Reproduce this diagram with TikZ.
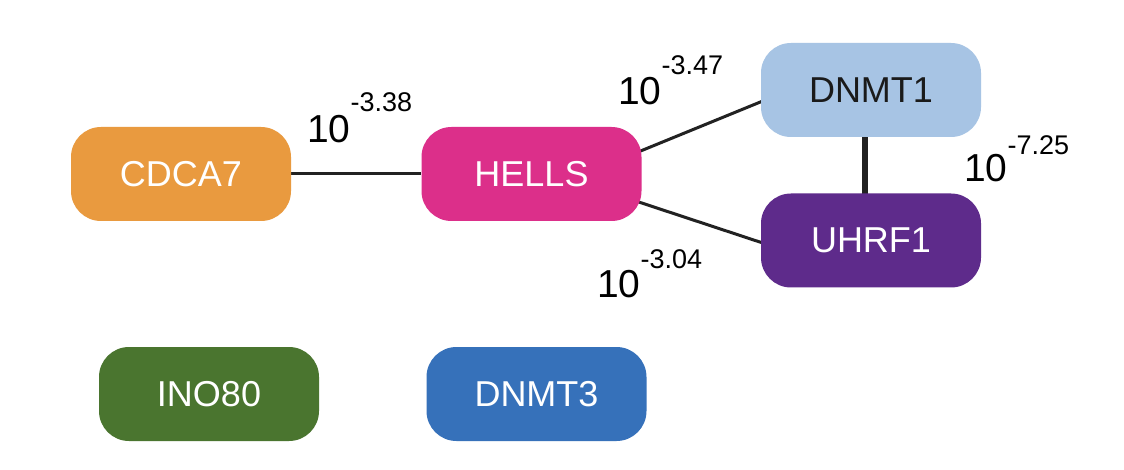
\documentclass[tikz,border=0pt]{standalone}
\usepackage{fontspec}
\setmainfont{Liberation Sans}
\usetikzlibrary{backgrounds,calc}
\definecolor{cOrange}{HTML}{E99A3F}
\definecolor{cPink}{HTML}{DC2F8A}
\definecolor{cLight}{HTML}{A7C4E4}
\definecolor{cPurple}{HTML}{5E2B8B}
\definecolor{cGreen}{HTML}{4A752F}
\definecolor{cBlue}{HTML}{3671BA}
\definecolor{cDark}{HTML}{1A1A1A}
\definecolor{cEdge}{HTML}{222222}
\newcommand\pvalexp[2]{10\raisebox{#1}{\fontsize{27}{30}\selectfont #2}}
\begin{document}
\begin{tikzpicture}[x=1pt,y=-1pt,
  gene/.style={rounded corners=30pt, minimum width=220pt, minimum height=94pt,
    inner sep=0pt, text=white, font=\fontsize{36}{40}\selectfont},
  link/.style={line width=3pt, draw=cEdge},
  strong/.style={line width=6pt, draw=cEdge},
  pv/.style={anchor=base west, inner sep=0pt, text=black, font=\fontsize{39}{44}\selectfont}]
\useasboundingbox (0,0) rectangle (1124,470);
\node[gene, fill=cOrange] (cdca7) at (181,174) {CDCA7};
\node[gene, fill=cPink] (hells) at (531.5,174) {HELLS};
\node[gene, fill=cLight, text=cDark] (dnmt1) at (871,90) {DNMT1};
\node[gene, fill=cPurple] (uhrf1) at (871,240.5) {UHRF1};
\node[gene, fill=cGreen] (ino80) at (209,394) {INO80};
\node[gene, fill=cBlue] (dnmt3) at (536.5,394) {DNMT3};
\begin{scope}[on background layer]
  \fill[white] (0,0) rectangle (1124,470);
  \draw[link] (cdca7) -- (hells);
  \draw[link] ($(hells.east)+(-6,-21)$) -- ($(dnmt1.west)+(2,11)$);
  \draw[link] ($(hells.east)+(-6,27)$) -- ($(uhrf1.west)+(2,2.5)$);
  \draw[strong] ($(dnmt1.south)+(-6,-2)$) -- ($(uhrf1.north)+(-6,2)$);
\end{scope}
\node[pv] (p1) at (307,143) {\pvalexp{31pt}{-3.38}};
\node[pv] (p2) at (618,105) {\pvalexp{30pt}{-3.47}};
\node[pv] (p3) at (964,182) {\pvalexp{27pt}{-7.25}};
\node[pv] (p4) at (597,298) {\pvalexp{29pt}{-3.04}};
\end{tikzpicture}
\end{document}
